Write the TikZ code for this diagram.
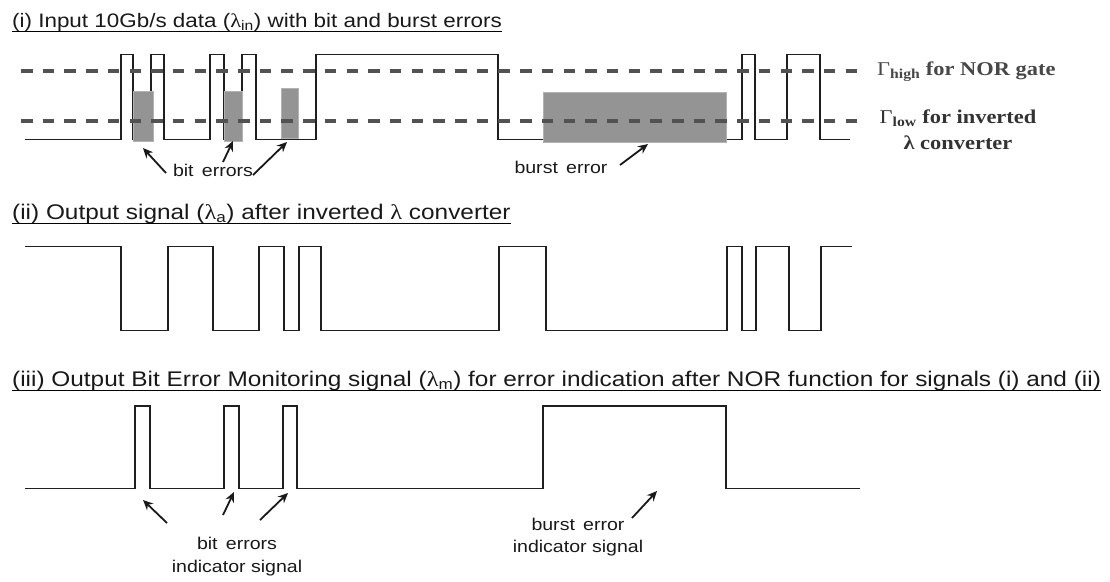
\documentclass[tikz,border=0pt]{standalone}
\usepackage{fontspec}
\setmainfont{Liberation Sans}
\newfontfamily\sigfont[FakeStretch=1.15]{Liberation Sans}
\newfontfamily\lvlfont[FakeStretch=1.15]{Liberation Serif}
\usetikzlibrary{arrows.meta}

\tikzset{
  sigline/.style={line width=1.7pt, black!88, line join=miter},
  thresh/.style={line width=3.6pt, black!68, dash pattern=on 11.5pt off 10.2pt},
  errbox/.style={fill=black!42, draw=black!30, line width=0.6pt},
  errarrow/.style={line width=1.8pt, black!90, -{Stealth[length=10pt,width=9pt]}},
  heading/.style={anchor=base west, inner sep=0pt, text=black!90, font=\sigfont\fontsize{19.5}{22}\selectfont},
  bigheading/.style={heading, font=\sigfont\fontsize{21.2}{24}\selectfont},
  tag/.style={inner sep=0pt, align=center, text=black!90, font=\sigfont\fontsize{17}{22.5}\selectfont},
  level/.style={inner sep=0pt, align=center, text=black!72, font=\lvlfont\fontsize{19.5}{26}\selectfont}
}

\begin{document}
\begin{tikzpicture}[x=1pt,y=-1pt]
% fix the picture size to the reference
\useasboundingbox (0,0) rectangle (1110,581);

% signal levels
\def\hiA{54.5} \def\loA{139.5}
\def\hiB{246.5} \def\loB{330.5}
\def\hiC{406} \def\loC{488.5}

% (i) input data with bit and burst errors
\node[heading] (ttlin) at (12,27) {(i) Input 10Gb/s data ({\lvlfont λ}\textsubscript{in}) with bit and burst errors};
\draw[line width=1.3pt] ([yshift=-4.5pt]ttlin.base west) -- ([yshift=-4.5pt]ttlin.base east);
\draw[sigline] (25,\loA) -| (121,\hiA) -| (133,\loA) -| (151,\hiA) -| (164,\loA) -| (210,\hiA) -| (224,\loA) -| (242,\hiA) -| (256,\loA) -| (316,\hiA) -| (498,\loA) -| (742,\hiA) -| (755,\loA) -| (787,\hiA) -| (820,\loA) -- (850,\loA);
\draw[errbox] (133,91) rectangle (153,141);
\draw[errbox] (224,91) rectangle (242,141);
\draw[errbox] (281,88) rectangle (298,138);
\draw[errbox] (543,92) rectangle (726,142);
\draw[thresh] (21,71) -- (860,71);
\draw[thresh] (21,121) -- (860,121);
\node[level, anchor=west] (lvlhigh) at (877,72) {Γ\textsubscript{\bfseries high} \bfseries for NOR gate};
\node[level, text=black!80] (lvllow) at (958,130) {Γ\textsubscript{\bfseries low} \bfseries for inverted\\\bfseries λ converter};
\node[tag] (lblbit) at (213,170) {bit\, errors};
\node[tag] (lblburst) at (561,167) {burst\, error};
\coordinate (bittail1) at (166,173); \coordinate (bittip1) at (143,148);
\coordinate (bittail2) at (223,162); \coordinate (bittip2) at (233,141);
\coordinate (bittail3) at (253,175); \coordinate (bittip3) at (287,142);
\coordinate (bursttail) at (620,165); \coordinate (bursttip) at (648,144);
\draw[errarrow] (bittail1) -- (bittip1);
\draw[errarrow] (bittail2) -- (bittip2);
\draw[errarrow] (bittail3) -- (bittip3);
\draw[errarrow] (bursttail) -- (bursttip);

% (ii) output of the inverted converter
\node[bigheading] (ttlout) at (12,219) {(ii) Output signal ({\lvlfont λ}\textsubscript{a}) after inverted {\lvlfont λ} converter};
\draw[line width=1.3pt] ([yshift=-4.5pt]ttlout.base west) -- ([yshift=-4.5pt]ttlout.base east);
\draw[sigline] (25,\hiB) -| (121,\loB) -| (168,\hiB) -| (213,\loB) -| (259,\hiB) -| (284,\loB) -| (299,\hiB) -| (321,\loB) -| (499,\hiB) -| (546,\loB) -| (727,\hiB) -| (742,\loB) -| (756,\hiB) -| (789,\loB) -| (821,\hiB) -- (852,\hiB);

% (iii) error monitoring output
\node[bigheading] (ttlmon) at (12,386) {(iii) Output Bit Error Monitoring signal ({\lvlfont λ}\textsubscript{m}) for error indication after NOR function for signals (i) and (ii)};
\draw[line width=1.3pt] ([yshift=-4.5pt]ttlmon.base west) -- ([yshift=-4.5pt]ttlmon.base east);
\draw[sigline] (25,\loC) -| (135,\hiC) -| (150,\loC) -| (224,\hiC) -| (239,\loC) -| (283,\hiC) -| (297,\loC) -| (543,\hiC) -| (726,\loC) -- (860,\loC);
\node[tag] (lblbitind) at (237,556.5) {bit\, errors\\indicator signal};
\node[tag] (lblburstind) at (578,537) {burst\, error\\indicator signal};
\coordinate (indtail1) at (167,523); \coordinate (indtip1) at (143,500);
\coordinate (indtail2) at (223,515); \coordinate (indtip2) at (234,492);
\coordinate (indtail3) at (260,520); \coordinate (indtip3) at (288,493);
\coordinate (indtail4) at (632,518); \coordinate (indtip4) at (657,491);
\draw[errarrow] (indtail1) -- (indtip1);
\draw[errarrow] (indtail2) -- (indtip2);
\draw[errarrow] (indtail3) -- (indtip3);
\draw[errarrow] (indtail4) -- (indtip4);
\end{tikzpicture}
\end{document}
